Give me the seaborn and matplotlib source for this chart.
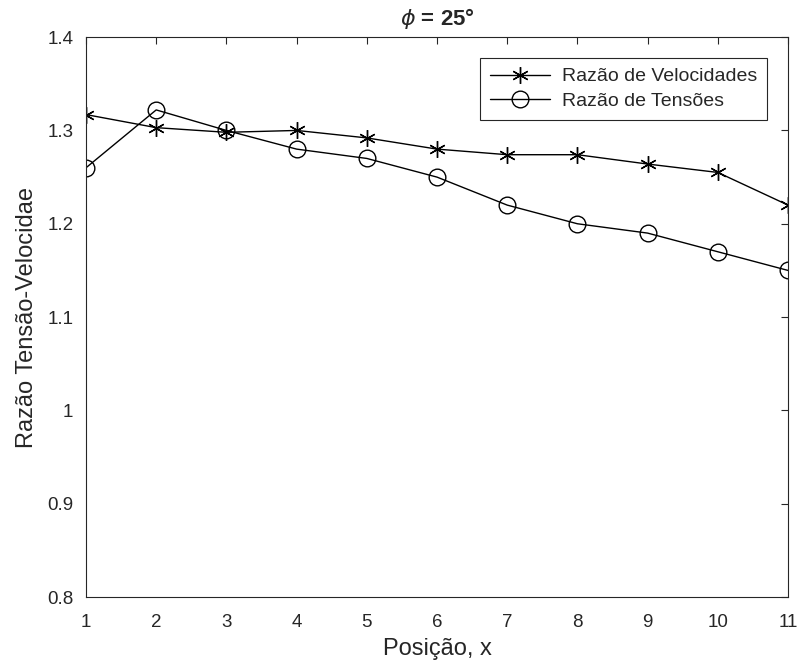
import matplotlib
matplotlib.use("Agg")
import matplotlib.pyplot as plt
import seaborn as sns

# valores
posicao = [1, 2, 3, 4, 5, 6, 7, 8, 9, 10, 11]
razao_velocidades = [1.317, 1.303, 1.298, 1.300, 1.292, 1.280, 1.274, 1.274, 1.264, 1.255, 1.220]
razao_tensoes = [1.260, 1.322, 1.300, 1.280, 1.270, 1.250, 1.220, 1.200, 1.190, 1.170, 1.150]
x_ticks = list(range(1, 12))
y_ticks = [0.8, 0.9, 1.0, 1.1, 1.2, 1.3, 1.4]
y_tick_labels = ['0.8', '0.9', '1', '1.1', '1.2', '1.3', '1.4']

sns.set_style('white')
plt.rcParams['font.family'] = ['Liberation Sans', 'DejaVu Sans']
plt.rcParams['mathtext.fontset'] = 'dejavusans'

fig = plt.figure(figsize=(8, 6.63), dpi=100)
ax = fig.add_axes([0.1075, 0.0995, 0.8775, 0.8445])

sns.lineplot(x=posicao, y=razao_velocidades, ax=ax, color='black', linewidth=1,
             marker=(6, 2, 0), markersize=12, markeredgecolor='black', markeredgewidth=1,
             label='Razão de Velocidades')
sns.lineplot(x=posicao, y=razao_tensoes, ax=ax, color='black', linewidth=1,
             marker='o', markersize=12, markerfacecolor='none', markeredgecolor='black',
             markeredgewidth=1, label='Razão de Tensões')

ax.set_xlim(1, 11)
ax.set_ylim(0.8, 1.4)
ax.set_xticks(x_ticks)
ax.set_yticks(y_ticks)
ax.set_yticklabels(y_tick_labels)
ax.tick_params(direction='in', length=5, width=0.8, top=True, right=True,
               labelsize=13.5, colors='#262626')
ax.tick_params(axis='x', pad=12)
ax.tick_params(axis='y', pad=9)
for s in ax.spines.values():
    s.set_visible(True)
    s.set_color('#262626')
    s.set_linewidth(0.8)

ax.set_xlabel('Posição, x', fontsize=17, color='#262626', labelpad=5)
ax.set_ylabel('Razão Tensão-Velocidae', fontsize=17, color='#262626', labelpad=7)
ax.set_title(r'$\phi$ = 25°', fontsize=16, fontweight='bold', pad=9)

leg = ax.legend(loc='upper right', bbox_to_anchor=(0.970, 0.9625), borderaxespad=0,
                fontsize=14, frameon=True, fancybox=False, edgecolor='#262626',
                framealpha=1, handlelength=3.1, borderpad=0.5, labelspacing=0.35,
                handletextpad=0.6)
leg.get_frame().set_linewidth(0.8)

fig.savefig('out.png', dpi=100)
